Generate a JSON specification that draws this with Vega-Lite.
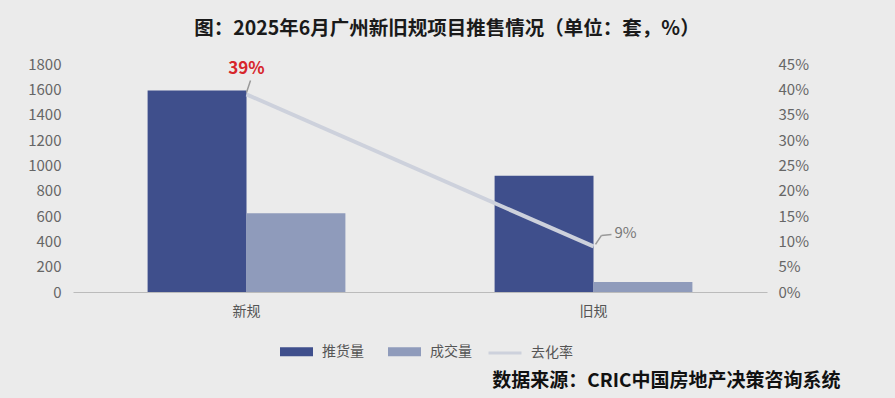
{
  "$schema": "https://vega.github.io/schema/vega-lite/v6.json",
  "width": 694,
  "height": 228,
  "autosize": {"type": "none"},
  "padding": {"left": 73, "top": 64, "right": 128, "bottom": 106},
  "background": "#ebebeb",
  "config": {"view": {"stroke": null}, "font": "Noto Sans CJK SC"},
  "title": {
    "text": "图：2025年6月广州新旧规项目推售情况（单位：套，%）",
    "font": "Noto Sans CJK SC",
    "fontSize": 19.5,
    "fontWeight": "bold",
    "color": "#1a1a1a",
    "anchor": "middle",
    "frame": "group",
    "dx": 27,
    "offset": 18
  },
  "datasets": {
    "bars": [
      {"cat": "新规", "series": "推货量", "value": 1590},
      {"cat": "新规", "series": "成交量", "value": 622},
      {"cat": "旧规", "series": "推货量", "value": 918},
      {"cat": "旧规", "series": "成交量", "value": 78}
    ],
    "rate": [
      {"cat": "新规", "rate": 0.39},
      {"cat": "旧规", "rate": 0.09}
    ]
  },
  "encoding": {
    "x": {
      "field": "cat",
      "type": "nominal",
      "sort": ["新规", "旧规"],
      "scale": {"paddingInner": 0.43, "paddingOuter": 0.215},
      "axis": {
        "title": "数据来源：CRIC中国房地产决策咨询系统",
        "titleX": 767,
        "titleY": 88,
        "titleAlign": "right",
        "titleBaseline": "middle",
        "titleFontSize": 19,
        "titleFontWeight": "bold",
        "titleColor": "#111111",
        "labelAngle": 0,
        "labelFontSize": 14,
        "labelColor": "#555555",
        "labelPadding": 12,
        "ticks": false,
        "domainColor": "#bbbbbb",
        "domainWidth": 1
      }
    }
  },
  "layer": [
    {
      "data": {"name": "bars"},
      "mark": {"type": "bar"},
      "encoding": {
        "xOffset": {"field": "series", "type": "nominal", "sort": ["推货量", "成交量"]},
        "y": {
          "field": "value",
          "type": "quantitative",
          "scale": {"domain": [0, 1800], "nice": false},
          "axis": {
            "title": null,
            "domain": false,
            "ticks": false,
            "grid": false,
            "format": "d",
            "labelFontSize": 15,
            "labelColor": "#666666",
            "labelPadding": 12,
            "values": [0, 200, 400, 600, 800, 1000, 1200, 1400, 1600, 1800]
          }
        },
        "color": {
          "field": "series",
          "type": "nominal",
          "scale": {"domain": ["推货量", "成交量"], "range": ["#3f4f8c", "#8f9bbb"]},
          "legend": {
            "title": null,
            "orient": "none",
            "legendX": 207,
            "legendY": 271,
            "direction": "horizontal",
            "symbolType": "M-1,-0.28H1V0.28H-1Z",
            "symbolSize": 1089,
            "symbolStrokeWidth": 0,
            "symbolOpacity": 1,
            "labelFontSize": 14,
            "labelColor": "#555555",
            "labelOffset": 9,
            "columnPadding": 24
          }
        }
      }
    },
    {
      "data": {"name": "rate"},
      "encoding": {
        "y": {
          "field": "rate",
          "type": "quantitative",
          "scale": {"domain": [0, 0.45], "nice": false},
          "axis": {
            "orient": "right",
            "title": null,
            "domain": false,
            "ticks": false,
            "grid": false,
            "format": ".0%",
            "labelFontSize": 15,
            "labelColor": "#666666",
            "labelPadding": 11,
            "values": [0, 0.05, 0.1, 0.15, 0.2, 0.25, 0.3, 0.35, 0.4, 0.45]
          }
        }
      },
      "layer": [
        {
          "mark": {"type": "line", "strokeWidth": 4},
          "encoding": {
            "stroke": {
              "datum": "去化率",
              "type": "nominal",
              "scale": {"domain": ["去化率"], "range": ["#cdd1dc"]},
              "legend": {
                "title": null,
                "orient": "none",
                "legendX": 414,
                "legendY": 271,
                "direction": "horizontal",
                "symbolType": "stroke",
                "symbolSize": 1089,
                "symbolStrokeWidth": 3,
                "labelFontSize": 14,
                "labelColor": "#555555",
                "labelOffset": 8
              }
            }
          }
        },
        {
          "transform": [{"filter": "datum.cat === '旧规'"}],
          "mark": {"type": "rule", "color": "#999999", "strokeWidth": 1.5, "xOffset": 2, "x2Offset": 8, "yOffset": -2, "y2Offset": -11},
          "encoding": {"x2": {"field": "cat"}, "y2": {"field": "rate"}}
        },
        {
          "transform": [{"filter": "datum.cat === '旧规'"}],
          "mark": {"type": "rule", "color": "#999999", "strokeWidth": 1.5, "xOffset": 8, "x2Offset": 18, "yOffset": -11, "y2Offset": -12},
          "encoding": {"x2": {"field": "cat"}, "y2": {"field": "rate"}}
        },
        {
          "transform": [{"filter": "datum.cat === '新规'"}],
          "mark": {"type": "rule", "color": "#999999", "strokeWidth": 1.5, "xOffset": 0, "x2Offset": 4, "yOffset": -2, "y2Offset": -14},
          "encoding": {"x2": {"field": "cat"}, "y2": {"field": "rate"}}
        },
        {
          "transform": [{"filter": "datum.cat === '新规'"}],
          "mark": {"type": "text", "color": "#d7262b", "fontWeight": "bold", "fontSize": 17, "dy": -25},
          "encoding": {"text": {"field": "rate", "type": "quantitative", "format": ".0%"}}
        },
        {
          "transform": [{"filter": "datum.cat === '旧规'"}],
          "mark": {"type": "text", "color": "#777777", "fontSize": 15, "align": "left", "dx": 21, "dy": -13},
          "encoding": {"text": {"field": "rate", "type": "quantitative", "format": ".0%"}}
        }
      ]
    }
  ],
  "resolve": {"scale": {"y": "independent"}}
}
